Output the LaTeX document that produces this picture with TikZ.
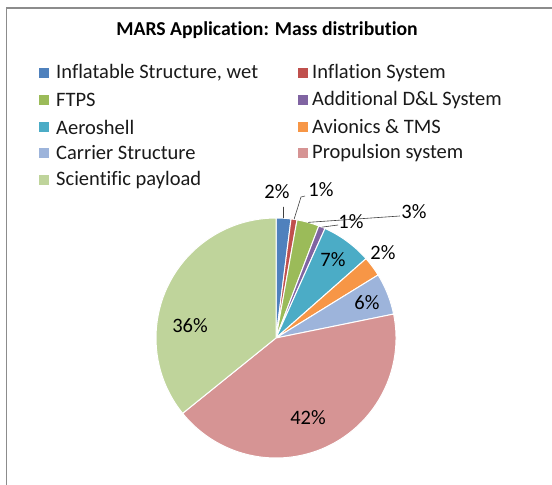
\documentclass[tikz,border=0pt]{standalone}
\usepackage{fontspec}
\setmainfont[Ligatures=NoCommon]{Carlito}
\definecolor{cA}{HTML}{4F81BD}
\definecolor{cB}{HTML}{C0504D}
\definecolor{cC}{HTML}{9BBB59}
\definecolor{cD}{HTML}{8064A2}
\definecolor{cE}{HTML}{4BACC6}
\definecolor{cF}{HTML}{F79646}
\definecolor{cG}{HTML}{9DB4DB}
\definecolor{cH}{HTML}{D69494}
\definecolor{cI}{HTML}{BFD49B}
\definecolor{frame}{HTML}{8C8C8C}
\definecolor{txt}{HTML}{1A1A1A}
\begin{document}
\begin{tikzpicture}[x=1pt,y=1pt,
  legtext/.style={anchor=west,inner sep=0pt,font=\fontsize{20.5}{23}\selectfont,text=txt},
  legmark/.style={minimum size=10pt,inner sep=0pt,draw=none},
  pct/.style={inner sep=0pt,font=\fontsize{20.5}{23}\selectfont,text=black},
  leader/.style={draw=black!75,line width=0.6pt},
  slice/.style={draw=white,line width=1pt,line join=round}]
\useasboundingbox (0,0) rectangle (552,485);
\fill[white] (0,0) rectangle (552,485);
\draw[frame,line width=1.5pt] (6.5,0) -- (6.5,477) -- (552,477);
% title
\node[font=\bfseries\fontsize{19.7}{23}\selectfont] (title) at (267,455) {MARS Application: Mass distribution};
% legend
\foreach \y/\c/\t/\n in {412/cA/{Inflatable Structure, wet}/a,385/cC/FTPS/c,358/cE/Aeroshell/e,332/cG/Carrier Structure/g,305/cI/Scientific payload/i}{
  \node[legmark,fill=\c] (m\n) at (44,\y) {};
  \node[legtext] (l\n) at (56,\y) {\t};
}
\foreach \y/\c/\t/\n in {412/cB/Inflation System/b,385/cD/Additional D\&L System/d,358/cF/Avionics \& TMS/f,332/cH/Propulsion system/h}{
  \node[legmark,fill=\c] (m\n) at (302.5,\y) {};
  \node[legtext] (l\n) at (312,\y) {\t};
}
% pie
\begin{scope}[shift={(276,147)}]
\foreach \a/\b/\c in {0/7.2/cA,7.2/10.1/cB,10.1/20.9/cC,20.9/24.1/cD,24.1/48.6/cE,48.6/58.3/cF,58.3/78.5/cG,78.5/231.1/cH,231.1/360/cI}{
  \filldraw[slice,fill=\c] (0,0) -- ({120*sin(\a)},{120*cos(\a)}) arc[start angle={90-\a},end angle={90-\b},radius=120pt] -- cycle;
}
\coordinate (pa) at ({120*sin(3.6)},{120*cos(3.6)});
\coordinate (pb) at ({120*sin(8.65)},{120*cos(8.65)});
\coordinate (pc) at ({120*sin(15.5)},{120*cos(15.5)});
\coordinate (pd) at ({120*sin(22.5)},{120*cos(22.5)});
\end{scope}
% labels
\node[pct] (ta) at (277,293) {2\%};
\node[pct] (tb) at (321,295) {1\%};
\node[pct] (tc) at (414,273) {3\%};
\node[pct] (td) at (351,263) {1\%};
\node[pct] (te) at (333,225) {7\%};
\node[pct] (tf) at (383,232) {2\%};
\node[pct] (tg) at (367,182) {6\%};
\node[pct] (th) at (308,67) {42\%};
\node[pct] (ti) at (190,159) {36\%};
% leaders
\coordinate (ka) at (283.5,278);
\coordinate (kb) at (301,288);
\coordinate (kb2) at (305,289);
\coordinate (kc) at (400,269);
\coordinate (kd) at (338,260);
\draw[leader] (pa) -- (ka);
\draw[leader] (pb) -- (kb) -- (kb2);
\draw[leader] (pc) -- (kc);
\draw[leader] (pd) -- (kd);
\end{tikzpicture}
\end{document}
